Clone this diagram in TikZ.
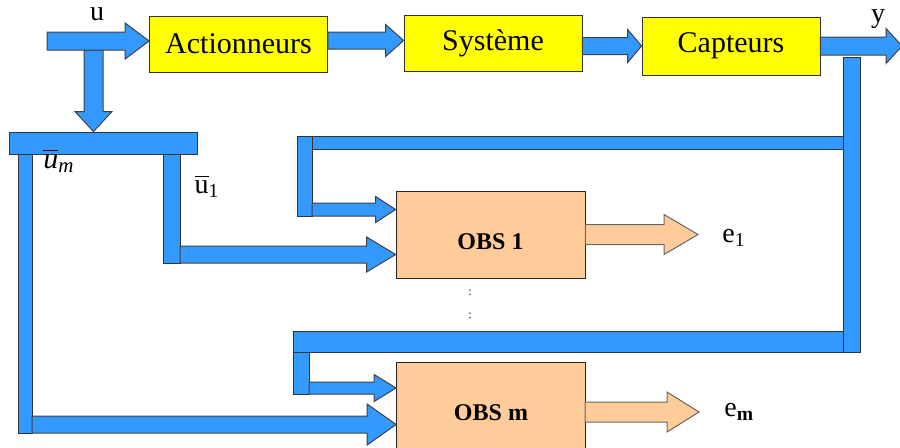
\documentclass[tikz,border=0pt]{standalone}
\usepackage{amsmath}
\usepackage{fontspec}
\setmainfont{Liberation Serif}
\usepackage{tikz}
\usetikzlibrary{calc}
\definecolor{boxyellow}{rgb}{1.00,1.00,0.00}
\definecolor{obspeach}{rgb}{1.00,0.80,0.60}
\definecolor{arrowblue}{rgb}{0.20,0.60,1.00}
\tikzset{
  block/.style={rectangle, draw=black!80, fill=boxyellow, minimum width=89pt, minimum height=28pt, inner sep=0pt, font=\fontsize{15}{18}\selectfont},
  obsbox/.style={rectangle, draw=black!85, fill=obspeach, minimum width=94.5pt, minimum height=43.5pt, inner sep=0pt, text height=15pt, text depth=0pt, font=\fontsize{12}{14}\selectfont\bfseries},
  bluearrow/.style={draw=black!75, fill=arrowblue, line width=0.5pt},
  peacharrow/.style={draw=black!60, fill=obspeach, line width=0.5pt},
  bar/.style={draw=black!80, fill=arrowblue, line width=0.5pt},
  lbl/.style={inner sep=0pt, font=\fontsize{14}{16}\selectfont}
}
% fat arrow: [style]{from}{tip}{half shaft}{half head}{head length}
\newcommand{\fatarrow}[6][bluearrow]{
  \coordinate (fa-h) at ($(#3)!#6!(#2)$);
  \path[#1] ($(#2)!#4!90:(#3)$) -- ($(fa-h)!#4!90:(#3)$) -- ($(fa-h)!#5!90:(#3)$) -- (#3)
    -- ($(fa-h)!#5!-90:(#3)$) -- ($(fa-h)!#4!-90:(#3)$) -- ($(#2)!#4!-90:(#3)$) -- cycle;}

\begin{document}
\begin{tikzpicture}[x=0.5pt, y=-0.5pt]
\useasboundingbox (0,0) rectangle (900,447);
\clip (0,0) rectangle (900,447);

% chain
\node[block] (act) at (238.5,44) {Actionneurs};
\node[block] (sys) at (493,43) {Système};
\node[block, minimum height=29pt] (capt) at (731,46) {Capteurs};
\node[bar, minimum width=94pt, minimum height=11pt, inner sep=0pt] (dist) at (103,143) {};

\coordinate (uin) at (47,41);
\coordinate (usplit) at (93.5,50);
\coordinate (utip) at (uin -| act.west);
\coordinate (dtip) at (usplit |- dist.north);
\coordinate (as0) at ([yshift=1.75pt]act.east);
\coordinate (as1) at (as0 -| sys.west);
\coordinate (sc0) at (sys.east |- capt.west);
\coordinate (yout) at (902,46);

\fatarrow{usplit}{dtip}{4.75pt}{9.25pt}{10pt}
\fatarrow{uin}{utip}{4.5pt}{9pt}{12pt}
\fatarrow{as0}{as1}{4.25pt}{8pt}{9pt}
\fatarrow{sc0}{capt.west}{4.25pt}{8.25pt}{7pt}
\fatarrow{capt.east}{yout}{4.5pt}{8.75pt}{8pt}

% observers
\node[obsbox] (obs1) at (490.5,234.5) {OBS 1};
\node[obsbox] (obsm) at (491,405.5) {OBS m};

% y feedback
\draw[bar] (843,57) rectangle (860,352);
\draw[bar] (297,136) rectangle (312,216);
\draw[bar] (312,136) rectangle (843,149);
\draw[bar] (293,331) rectangle (843,352);
\draw[bar] (293,352) rectangle (309,394);
\coordinate (f1s) at (312,209.5);
\coordinate (f1t) at (f1s -| obs1.west);
\coordinate (fms) at (309,388);
\coordinate (fmt) at (fms -| obsm.west);
\fatarrow{f1s}{f1t}{3.25pt}{6.5pt}{10pt}
\fatarrow{fms}{fmt}{3pt}{6.75pt}{11pt}

% input split
\draw[bar] (18,154) rectangle (32,433);
\draw[bar] (163,154) rectangle (180,263);
\coordinate (u1s) at (180,254.5);
\coordinate (u1t) at (u1s -| obs1.west);
\coordinate (ums) at (32,424.5);
\coordinate (umt) at (ums -| obsm.west);
\fatarrow{u1s}{u1t}{4.25pt}{8.75pt}{14.5pt}
\fatarrow{ums}{umt}{4.25pt}{10.25pt}{14.5pt}

% residuals
\coordinate (e1t) at (698,234.5);
\coordinate (ems) at (585,412);
\coordinate (emt) at (699,412);
\fatarrow[peacharrow]{obs1.east}{e1t}{5pt}{10pt}{17pt}
\fatarrow[peacharrow]{ems}{emt}{5pt}{10pt}{16pt}

\node[lbl] (ulbl) at (97,14) {u};
\node[lbl] (ylbl) at (878,19) {y};
\node[lbl, font=\fontsize{15}{17}\selectfont] (umlbl) at (59,161) {$\overline{\textit{u}}_{\textit{m}}$};
\node[lbl] (u1lbl) at (207,186) {$\overline{\text{u}}_{\text{1}}$};
\node[lbl, anchor=west] (e1lbl) at (722,238) {e$_{\text{1}}$};
\node[lbl, anchor=west] (emlbl) at (724,412) {e$_{\textbf{m}}$};
\node[font=\fontsize{6}{6}\selectfont, inner sep=0pt] (dots1) at (470,293) {:};
\node[font=\fontsize{6}{6}\selectfont, inner sep=0pt] (dots2) at (470,316) {:};
\end{tikzpicture}
\end{document}
